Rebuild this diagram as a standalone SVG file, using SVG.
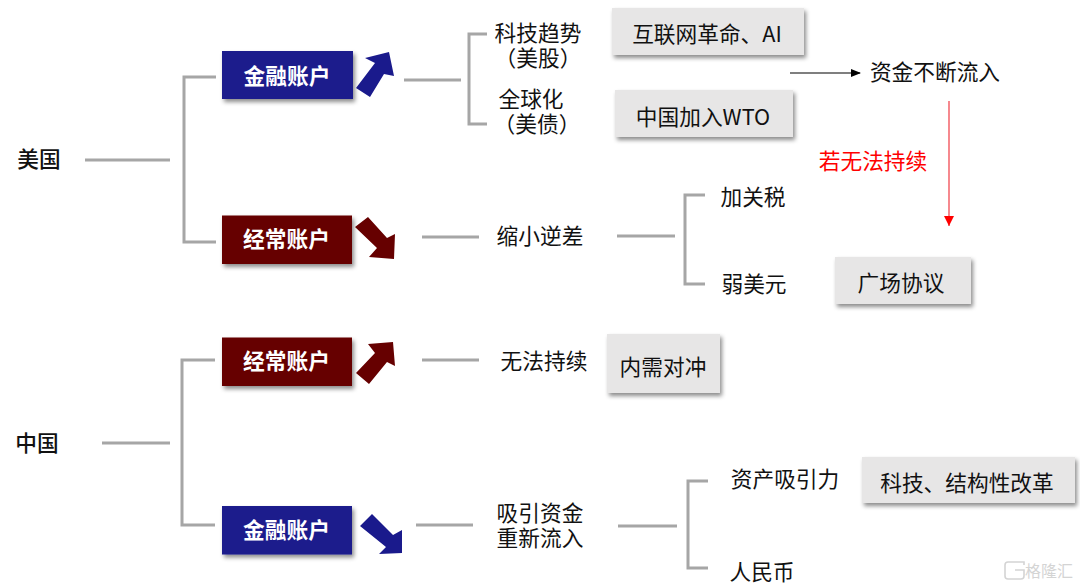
<svg xmlns="http://www.w3.org/2000/svg" width="1080" height="587" viewBox="0 0 1080 587">
<defs>
<filter id="sh" x="-10%" y="-10%" width="125%" height="130%"><feDropShadow dx="2" dy="3" stdDeviation="2" flood-color="#000" flood-opacity="0.45"/></filter>
<marker id="ab" markerWidth="10" markerHeight="10" refX="9" refY="4" orient="auto" markerUnits="userSpaceOnUse"><path d="M0 0L10 4L0 8Z" fill="#000"/></marker>
</defs>
<style>
text{font-family:"Noto Sans CJK SC","Liberation Sans",sans-serif;font-size:21.7px;fill:#111;text-anchor:middle}
.w{fill:#fff;font-weight:700}
.b{font-weight:500}
.r{fill:#f00}
.l{fill:none;stroke:#a6a6a6;stroke-width:3}
.blue{fill:#1a1a8c}
.dark{fill:#660000}
.g{fill:#e7e6e6;filter:url(#sh)}
</style>
<rect width="1080" height="587" fill="#fff"/>
<g id="connectors">
<path class="l" d="M85 160H170M216 77H184V242H216M404 80H461M487 34H469V124H487M422 237H479M617 236H675M705 195H685V284H705"/>
<path class="l" d="M102 443H170M215 360H182V525H215M422 360H479M416 525H473M618 526H677M708 481H688V568H708"/>
<path d="M790 73H860" fill="none" stroke="#000" stroke-width="1.2" marker-end="url(#ab)"/>
<path d="M949 101V226" fill="none" stroke="#f2565f" stroke-width="1.4"/>
<path d="M944 216H954L949 226Z" fill="#f00"/>
</g>
<g id="us"><text class="b" x="39" y="167">美国</text></g>
<g id="cn"><text class="b" x="37" y="451">中国</text></g>
<g id="us-fin"><rect class="blue" x="222" y="51" width="131" height="48" filter="url(#sh)"/><text class="w" x="287" y="84">金融账户</text></g>
<g id="us-cur"><rect class="dark" x="222" y="215.5" width="130" height="48.5" filter="url(#sh)"/><text class="w" x="286.500" y="247">经常账户</text></g>
<g id="cn-cur"><rect class="dark" x="222" y="337.500" width="130" height="48.500" filter="url(#sh)"/><text class="w" x="286.500" y="369">经常账户</text></g>
<g id="cn-fin"><rect class="blue" x="222" y="506" width="130" height="48.500" filter="url(#sh)"/><text class="w" x="286.500" y="538">金融账户</text></g>
<g id="arrow-1"><path class="blue" d="M356 88L370 97L384 74L394 76L389 52L365 58L375 63Z"/></g>
<g id="arrow-2"><path class="dark" d="M355 227L368 217L387 238L395 234L394 259L369 257L377 248Z"/></g>
<g id="arrow-3"><path class="dark" d="M356 373L369 384L387 362L395 366L393 342L368 344L375 353Z"/></g>
<g id="arrow-4"><path class="blue" d="M360 526L372 514L393 535L402 530L402 553L379 554L386 547Z"/></g>
<g id="t1"><text x="538" y="41">科技趋势<tspan x="538" dy="25">（美股）</tspan></text></g>
<g id="t2"><text x="531" y="107">全球化<tspan x="537" dy="25">（美债）</tspan></text></g>
<g id="b1"><rect class="g" x="612" y="8" width="192" height="47"/><text x="707" y="42">互联网革命、AI</text></g>
<g id="b2"><rect class="g" x="615" y="90" width="178" height="47"/><text x="703" y="125">中国加入WTO</text></g>
<g id="inflow"><text x="935" y="80">资金不断流入</text></g>
<g id="cont"><text class="r" x="873" y="169">若无法持续</text></g>
<g id="shrink"><text x="540" y="244">缩小逆差</text></g>
<g id="tariff"><text x="753" y="205">加关税</text></g>
<g id="weak"><text x="754" y="292">弱美元</text></g>
<g id="b3"><rect class="g" x="835" y="257" width="136" height="47"/><text x="901" y="291">广场协议</text></g>
<g id="nosus"><text x="544" y="369">无法持续</text></g>
<g id="b4"><rect class="g" x="607" y="334" width="113" height="59"/><text x="663" y="375">内需对冲</text></g>
<g id="attract"><text x="540" y="521">吸引资金<tspan x="540" dy="25">重新流入</tspan></text></g>
<g id="asset"><text x="785" y="487">资产吸引力</text></g>
<g id="rmb"><text x="762" y="580">人民币</text></g>
<g id="b5"><rect class="g" x="862" y="457" width="213" height="46"/><text x="967" y="491">科技、结构性改革</text></g>
<g id="watermark"><path d="M1024 565V562H1008Q1005 562 1005 565V576Q1005 579 1008 579H1021Q1024 579 1024 576V570H1015" fill="none" stroke="#d4d4d4" stroke-width="1.6"/><text x="1049" y="577" style="font-size:16px;fill:#d4d4d4">格隆汇</text></g>
</svg>
